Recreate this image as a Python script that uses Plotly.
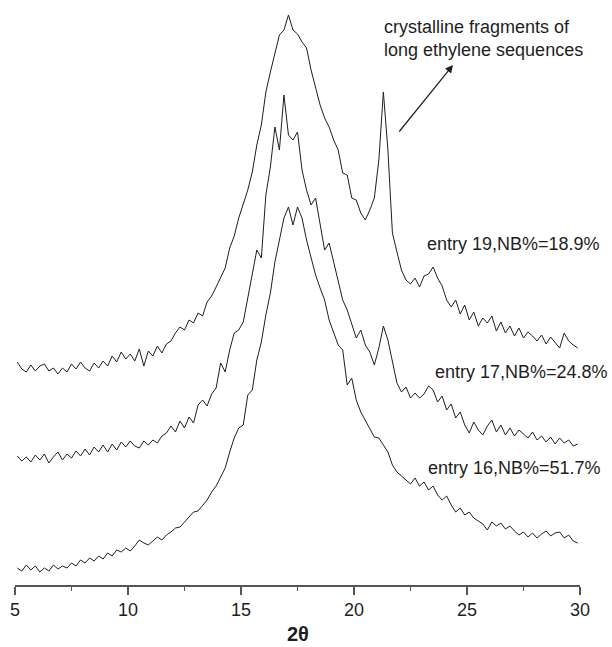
import plotly.graph_objects as go

# 2-theta sampling grid (deg)
THETA = [round(5.1 + 0.2 * i, 1) for i in range(125)]

# Intensities (arbitrary units, curves vertically offset as in the figure)
entry19 = [
    223, 216, 213, 220, 214, 219, 221, 214, 217, 211,
    217, 213, 221, 216, 223, 217, 214, 222, 217, 224,
    219, 229, 223, 233, 226, 231, 224, 236, 219, 234,
    229, 239, 232, 241, 244, 252, 258, 255, 265, 262,
    272, 269, 283, 289, 298, 308, 317, 337, 349, 367,
    381, 395, 413, 440, 460, 493, 513, 533, 550, 555,
    570, 555, 551, 543, 537, 515, 497, 480, 467, 458,
    445, 435, 412, 410, 387, 385, 372, 365, 375, 387,
    425, 493, 435, 352, 333, 315, 305, 301, 307, 298,
    309, 311, 318, 307, 299, 285, 278, 285, 271, 280,
    265, 273, 259, 267, 262, 269, 254, 263, 252, 259,
    249, 257, 247, 253, 249, 244, 250, 241, 248, 242,
    237, 252, 244, 240, 237,
]

entry17 = [
    129, 124, 128, 123, 130, 125, 131, 122, 128, 133,
    125, 131, 127, 134, 129, 136, 130, 138, 133, 140,
    133, 141, 135, 143, 138, 144, 139, 137, 144, 140,
    145, 142, 149, 152, 159, 153, 164, 157, 168, 162,
    180, 185, 179, 191, 197, 222, 213, 235, 252, 255,
    263, 287, 307, 335, 327, 390, 418, 458, 435, 490,
    450, 445, 453, 415, 395, 380, 387, 363, 335, 342,
    323, 307, 285, 275, 260, 247, 255, 240, 233, 220,
    237, 259, 245, 223, 202, 193, 198, 187, 192, 187,
    191, 199, 195, 183, 189, 175, 181, 167, 173, 160,
    152, 163, 155, 150, 159, 165, 153, 160, 150, 157,
    149, 155, 151, 147, 153, 145, 149, 143, 148, 141,
    147, 142, 145, 139, 141,
]

entry16 = [
    17, 14, 20, 15, 19, 13, 17, 14, 20, 16,
    19, 17, 22, 19, 25, 22, 27, 24, 29, 26,
    32, 29, 35, 33, 37, 34, 39, 45, 42, 40,
    44, 48, 45, 50, 53, 57, 58, 63, 67, 73,
    74, 79, 85, 93, 99, 108, 117, 133, 147, 157,
    160, 190, 195, 225, 243, 270, 292, 323, 345, 367,
    378, 360, 378, 367, 345, 327, 310, 297, 285, 265,
    253, 240, 235, 200, 207, 185, 173, 165, 157, 148,
    147, 140, 133, 120, 113, 109, 105, 101, 107, 99,
    103, 95, 99, 90, 85, 89, 80, 73, 77, 70,
    73, 67, 64, 61, 55, 63, 59, 62, 56, 59,
    54, 50, 53, 48, 52, 47, 51, 54, 49, 52,
    53, 47, 50, 44, 42,
]

LABELS = ["entry 19,NB%=18.9%", "entry 17,NB%=24.8%", "entry 16,NB%=51.7%"]
NOTE = ["crystalline fragments of", "long ethylene sequences"]
XTICKS = [5, 10, 15, 20, 25, 30]

FONT = "Liberation Sans, Arial, Helvetica, sans-serif"
INK = "#1e1e1e"

fig = go.Figure()
for ys, name in zip([entry19, entry17, entry16], LABELS):
    fig.add_trace(go.Scatter(x=THETA, y=ys, mode="lines", name=name,
                             line=dict(color=INK, width=1), showlegend=False,
                             hoverinfo="skip"))

ann = []
# curve labels
for txt, (xa, ya) in zip(LABELS, [(23.14, 341), (23.50, 213), (23.19, 117)]):
    ann.append(dict(x=xa, y=ya, xref="x", yref="y", text=txt, showarrow=False,
                    xanchor="left", yanchor="middle",
                    font=dict(family=FONT, size=18, color=INK)))
# note text
for txt, ya in zip(NOTE, [558, 535]):
    ann.append(dict(x=21.24, y=ya, xref="x", yref="y", text=txt, showarrow=False,
                    xanchor="left", yanchor="middle",
                    font=dict(family=FONT, size=18, color=INK)))
# arrow
ann.append(dict(x=24.38, y=520, ax=21.95, ay=452, xref="x", yref="y",
                axref="x", ayref="y", text="", showarrow=True,
                arrowhead=2, arrowsize=1.3, arrowwidth=1.2, arrowcolor=INK))
# axis title (bold 2θ below the axis)
ann.append(dict(x=(298 - 15) / (612 - 15 - 32), xref="paper", xanchor="center",
                y=-(634 - 585) / 585, yref="paper", yanchor="middle",
                text="<b>2θ</b>", showarrow=False,
                font=dict(family=FONT, size=20, color=INK)))

fig.update_layout(
    width=612, height=647,
    margin=dict(l=15, r=32, t=0, b=62),
    paper_bgcolor="white", plot_bgcolor="white",
    annotations=ann,
    xaxis=dict(range=[5, 30], showline=True, linecolor="#555", linewidth=1.5,
               ticks="outside", ticklen=8, tickwidth=1.5, tickcolor="#555",
               tickvals=XTICKS, ticktext=[str(t) for t in XTICKS],
               tickfont=dict(family=FONT, size=18, color=INK),
               showgrid=False, zeroline=False,
               minor=dict(ticks="outside", ticklen=4, tickwidth=1.2,
                          tickcolor="#555", dtick=2.5, tick0=5, showgrid=False)),
    yaxis=dict(range=[0, 585], visible=False, showgrid=False, zeroline=False),
)

fig.write_html("out.html")
